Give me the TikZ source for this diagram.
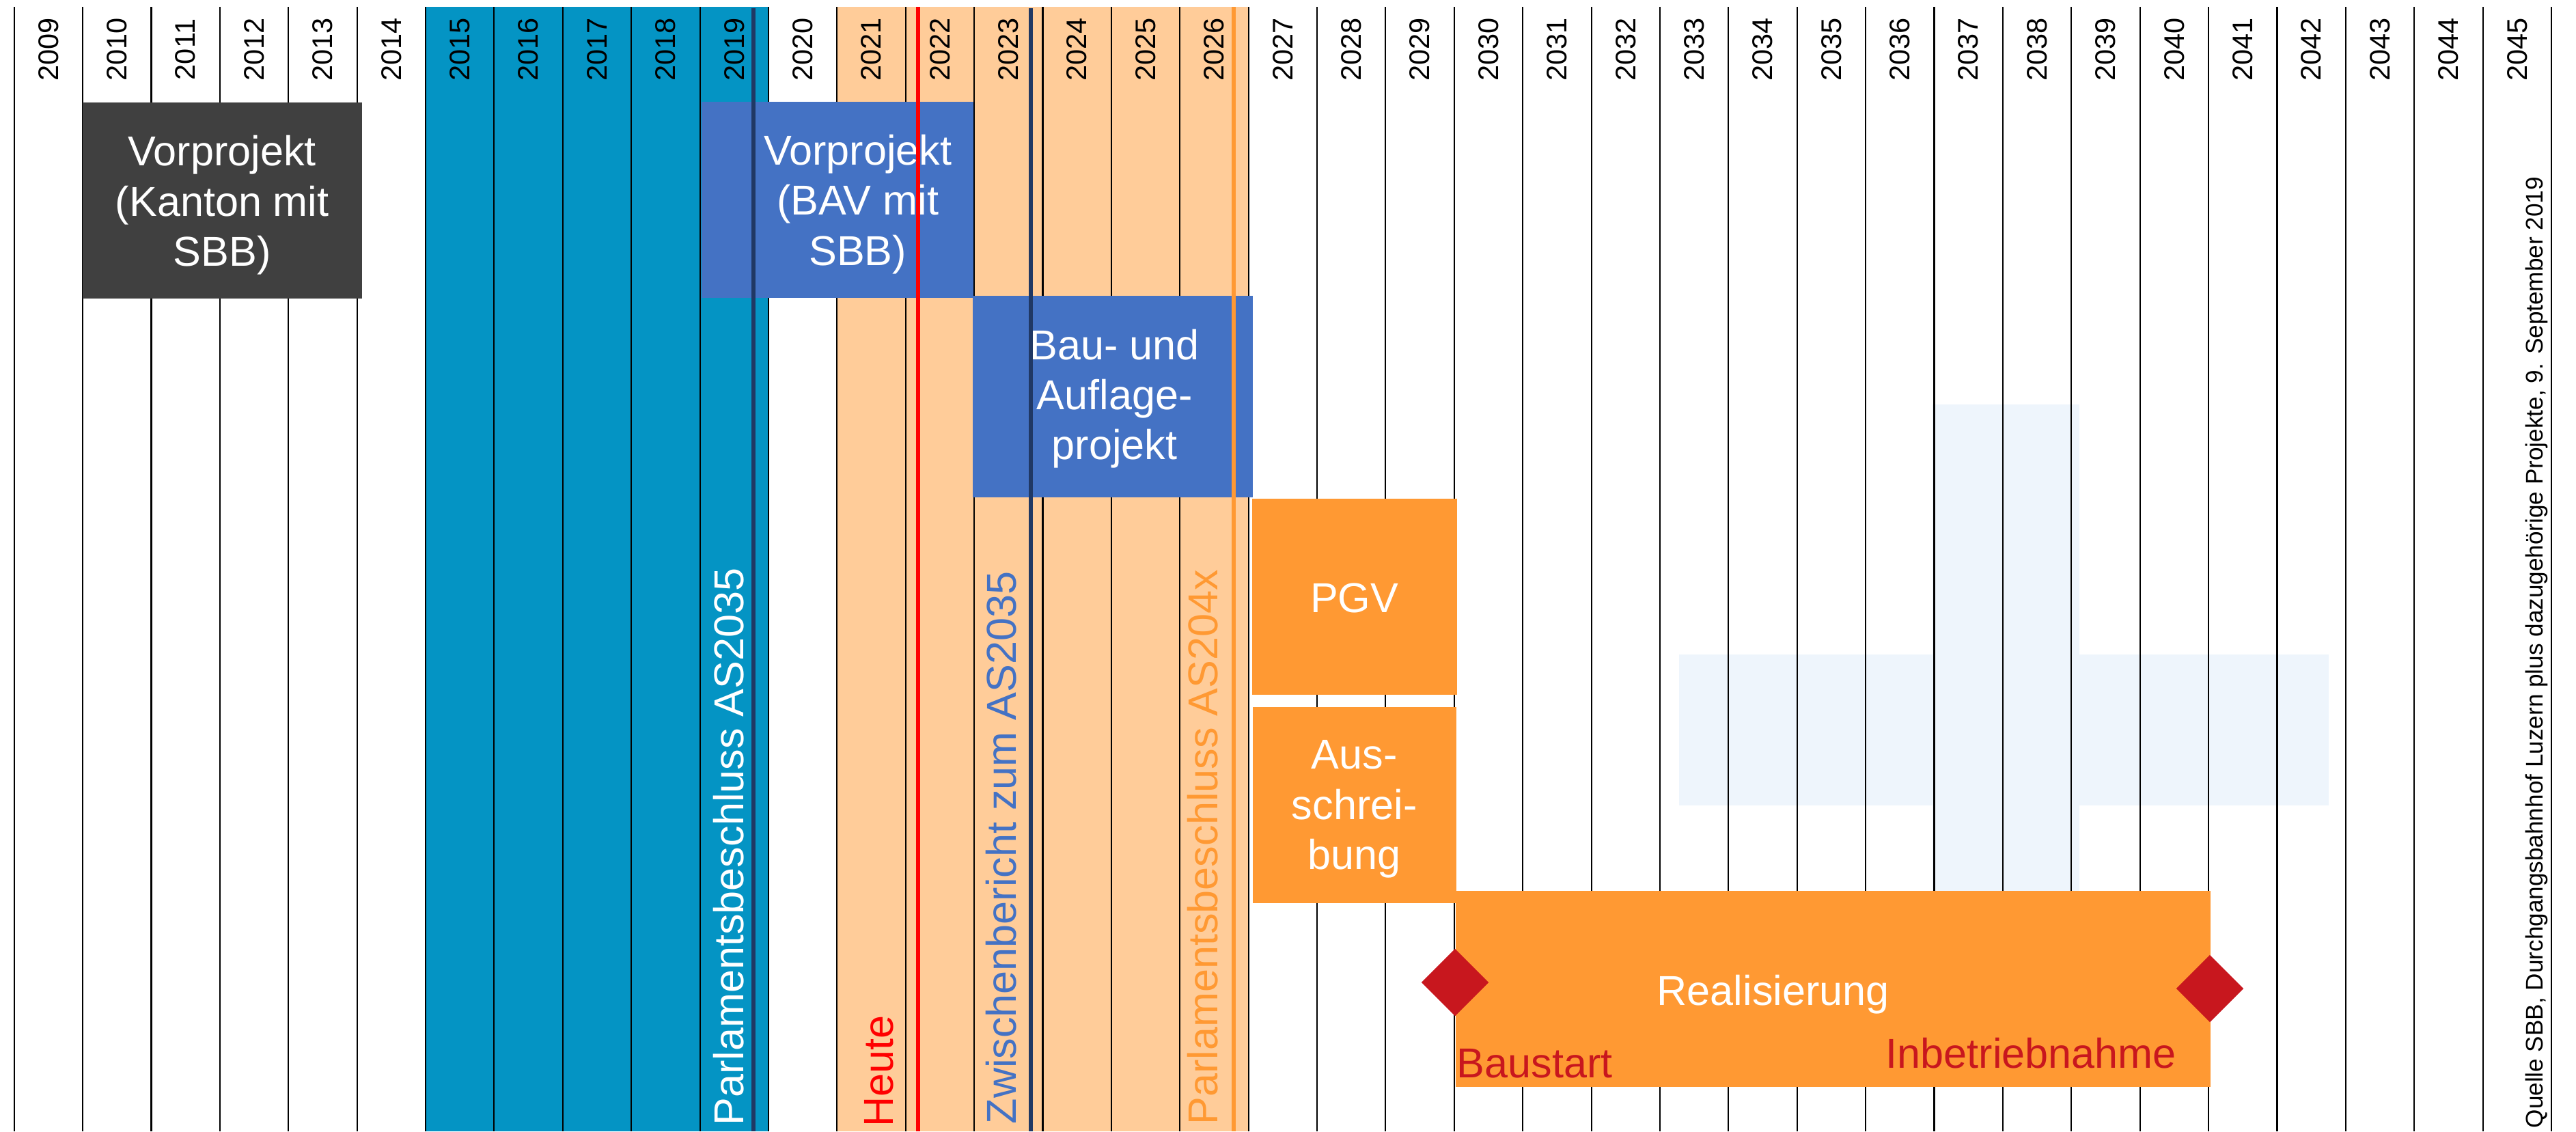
\documentclass[tikz,border=0pt]{standalone}
\usepackage{fontspec}
\setmainfont{Liberation Sans}
\usetikzlibrary{shapes.geometric}

\definecolor{sbbteal}{HTML}{0494C4}
\definecolor{peach}{HTML}{FFCC99}
\definecolor{paleblue}{HTML}{EEF5FC}
\definecolor{darkgrey}{HTML}{404040}
\definecolor{bavblue}{HTML}{4472C4}
\definecolor{sbborange}{HTML}{FF9933}
\definecolor{navy}{HTML}{203864}
\definecolor{sbbred}{HTML}{C8171E}

\newcommand\phasefont{\fontsize{17.4}{20.9}\selectfont}
\newcommand\yearfont{\fontsize{11.8}{14}\selectfont}
\newcommand\notefont{\fontsize{10}{12}\selectfont}

\def\xo{0.207}
\def\yw{1.00385}

\tikzset{
	gridline/.style = {black, line width=0.6pt},
	yearlabel/.style = {rotate=90, inner sep=0pt, font=\yearfont},
	phase/.style = {rectangle, inner sep=0pt, anchor=north west, minimum height=2.87cm},
	phasetext/.style = {inner sep=0pt, align=center, text=white, font=\phasefont},
	eventline/.style = {line width=1.45pt},
	vlabel/.style = {rotate=90, anchor=base west, inner sep=0pt, font=\phasefont},
	milestone/.style = {diamond, fill=sbbred, inner sep=0pt, minimum width=0.99cm, minimum height=0.99cm},
	mslabel/.style = {anchor=base west, inner sep=0pt, text=sbbred, font=\phasefont},
}

\begin{document}
\begin{tikzpicture}
			
			% Canvas
			\useasboundingbox[fill=white] (0,0) rectangle (37.71,-16.56);
			
			% Background bands
			\fill[sbbteal] ({\xo+6*\yw},-0.10) rectangle ({\xo+11*\yw},-16.56);
			\fill[peach] ({\xo+12*\yw},-0.10) rectangle ({\xo+18*\yw},-16.56);
			\fill[paleblue] (28.29,-5.92) rectangle (30.44,-14.00);
			\fill[paleblue] (24.58,-9.58) rectangle (34.09,-11.79);
			
			% Year grid
			\foreach \k in {0,...,37}
				\draw[gridline] ({\xo+\k*\yw},-0.10) -- ({\xo+\k*\yw},-16.56);
			\foreach \k [evaluate=\k as \yr using int(2009+\k)] in {0,...,36}
				\node[yearlabel] (year\yr) at ({\xo+(\k+0.5)*\yw},-0.725) {\yr};
			
			% Phases
			\node[phase, fill=darkgrey, minimum width=4.09cm] (kanton) at (1.20,-1.49) {};
			\node[phasetext] (kantontext) at ([yshift=-0.07cm]kanton.center) {Vorprojekt\\(Kanton mit\\SBB)};
			
			\node[phase, fill=bavblue, minimum width=3.98cm] (bav) at (10.26,-1.48) {};
			\node[phasetext] (bavtext) at ([xshift=0.30cm, yshift=-0.065cm]bav.center) {Vorprojekt\\(BAV mit\\SBB)};
			
			\node[phase, fill=bavblue, minimum width=4.10cm, minimum height=2.95cm] (auflage) at (14.23,-4.32) {};
			\node[phasetext] (auflagetext) at ([xshift=0.03cm, yshift=-0.035cm]auflage.center) {Bau- und\\Auflage-\\projekt};
			
			\node[phase, fill=sbborange, minimum width=3.00cm] (pgv) at (18.32,-7.29) {};
			\node[phasetext] (pgvtext) at ([yshift=-0.02cm]pgv.center) {PGV};
			
			\node[phase, fill=sbborange, minimum width=2.98cm] (ausschreibung) at (18.33,-10.34) {};
			\node[phasetext] (ausschreibungtext) at ([yshift=-0.065cm]ausschreibung.center) {Aus-\\schrei-\\bung};
			
			\node[phase, fill=sbborange, minimum width=11.05cm] (realisierung) at (21.30,-13.03) {};
			\node[phasetext] (realisierungtext) at ([xshift=-0.875cm, yshift=-0.08cm]realisierung.center) {Realisierung};
			
			% Events
			\draw[eventline, navy] (11.03,-0.12) -- (11.03,-16.56);
			\draw[eventline, red] (13.44,-0.10) -- (13.44,-16.56);
			\draw[eventline, navy] (15.09,-0.12) -- (15.09,-16.56);
			\draw[eventline, sbborange] (18.06,-0.10) -- (18.06,-16.56);
			
			\node[vlabel, text=white] (beschluss35) at (10.88,-16.48) {Parlamentsbeschluss AS2035};
			\node[vlabel, text=red] (heute) at (13.07,-16.50) {Heute};
			\node[vlabel, text=bavblue] (zwischen) at (14.87,-16.46) {Zwischenbericht zum AS2035};
			\node[vlabel, text=sbborange] (beschluss4x) at (17.82,-16.47) {Parlamentsbeschluss AS204x};
			
			% Milestones
			\node[milestone] (baustartms) at (21.30,-14.38) {};
			\node[milestone] (inbetriebms) at (32.35,-14.47) {};
			\node[mslabel] (baustart) at (21.32,-15.77) {Baustart};
			\node[mslabel] (inbetrieb) at (27.60,-15.63) {Inbetriebnahme};
			
			% Source
			\node[vlabel, font=\notefont] (quelle) at (37.22,-16.52) {Quelle SBB, Durchgangsbahnhof Luzern plus dazugehörige Projekte, 9. September 2019};
			
		\end{tikzpicture}
\end{document}
